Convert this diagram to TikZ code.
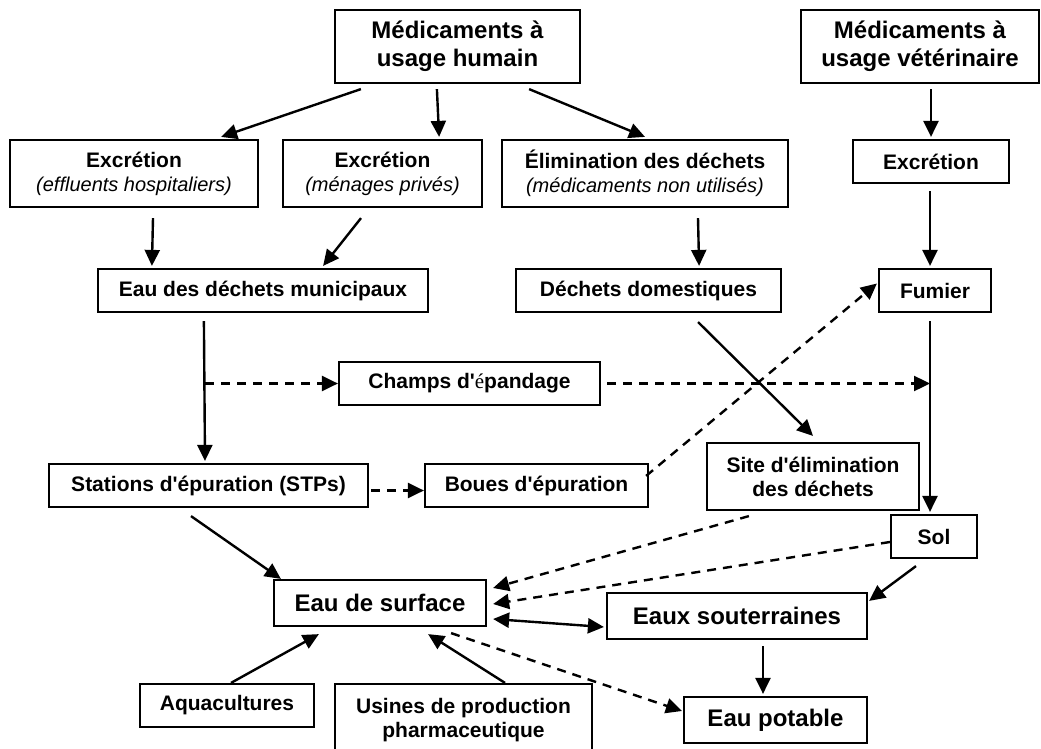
\documentclass[tikz,border=0pt]{standalone}
\usepackage{fontspec}
\setmainfont{Liberation Sans}
\newfontfamily\serifchar{Liberation Serif}
\usetikzlibrary{arrows.meta,positioning,calc}
\newcommand{\regfont}{\fontsize{21}{24}\selectfont\bfseries}
\newcommand{\bigfont}{\fontsize{24}{28}\selectfont\bfseries}
\newcommand{\subfont}{\fontsize{20}{24}\selectfont\mdseries\itshape}

\begin{document}
\begin{tikzpicture}[x=1pt, y=-1pt,
  box/.style={draw, line width=2.2pt, inner sep=0pt, align=center, font=\regfont},
  arr/.style={line width=2.4pt, -{Triangle[length=16pt,width=15pt]}},
  darr/.style={arr, dash pattern=on 9pt off 7pt},
  dbl/.style={line width=2.4pt, {Triangle[length=16pt,width=15pt]}-{Triangle[length=16pt,width=15pt]}}]
\useasboundingbox[fill=white] (0,0) rectangle (1041,749);

% Sources
\node[box, font=\bigfont, minimum width=245, minimum height=73] (hum) at (457.5,46.5) {Médicaments à\\usage humain};
\node[box, font=\bigfont, minimum width=238, minimum height=73] (vet) at (920,46.5) {Médicaments à\\usage vétérinaire};

% First level
\node[box, minimum width=248, minimum height=67] (exh) at (134,173.5) {Excrétion\\{\subfont (effluents hospitaliers)}};
\node[box, minimum width=199, minimum height=67] (exm) at (382.5,173.5) {Excrétion\\{\subfont (ménages privés)}};
\node[box, minimum width=286, minimum height=67] (elim) at (645,173.5) {Élimination des déchets\\{\subfont (médicaments non utilisés)}};
\node[box, minimum width=156, minimum height=43] (exv) at (931,161.5) {Excrétion};

% Second level
\node[box, minimum width=330, minimum height=43] (edm) at (263,290.5) {Eau des déchets municipaux};
\node[box, minimum width=265, minimum height=43] (dd) at (648.5,290.5) {Déchets domestiques};
\node[box, minimum width=112, minimum height=43] (fum) at (935,290.5) {Fumier};

% Treatment
\node[box, minimum width=261, minimum height=43] (champs) at (469.5,383.5) {Champs d\textquotesingle{\serifchar\mdseries é}pandage};
\node[box, minimum width=319, minimum height=43] (stp) at (208.5,485.5) {Stations d\textquotesingle épuration (STPs)};
\node[box, minimum width=223, minimum height=43] (boues) at (536.5,485.5) {Boues d\textquotesingle épuration};
\node[box, minimum width=212, minimum height=67] (site) at (813,476.5) {Site d\textquotesingle élimination\\des déchets};
\node[box, minimum width=86, minimum height=43] (sol) at (934,536.5) {Sol};

% Waters
\node[box, font=\bigfont, minimum width=212, minimum height=46] (eds) at (380,603) {Eau de surface};
\node[box, font=\bigfont, minimum width=260, minimum height=46] (eso) at (737,616) {Eaux souterraines};
\node[box, font=\bigfont, minimum width=183, minimum height=46] (epo) at (775.5,720) {Eau potable};
\node[box, minimum width=174, minimum height=43] (aqua) at (227,705.5) {Aquacultures};
\node[box, minimum width=257, minimum height=72] (usn) at (463.5,720) {Usines de production\\pharmaceutique};

% Flows from the drugs
\draw[arr] ($(hum.south west)+(27,5)$) -- ($(exh.north east)+(-38,-2)$);
\draw[arr] ($(hum.south west)+(103,5)$) -- ($(exm.north east)+(-44,-2)$);
\draw[arr] ($(hum.south east)+(-52,5)$) -- ($(elim.north)+(0,-2)$);
\draw[arr] ($(vet.south)+(11,5)$) -- ($(exv.north)+(0,-2)$);
\draw[arr] ($(exh.south)+(19,10)$) -- ($(edm.north west)+(55,-2)$);
\draw[arr] ($(exm.south)+(-21.5,10)$) -- ($(edm.north east)+(-106,-2)$);
\draw[arr] ($(elim.south)+(53,10)$) -- ($(dd.north east)+(-83,-2)$);
\draw[arr] ($(exv.south)+(-1,7)$) -- ($(fum.north)+(-5,-2)$);

% Sewage and manure
\coordinate (stpin) at ($(stp.north)+(-3.5,-2)$);
\coordinate (fumout) at ($(fum.south)+(-5,8)$);
\draw[arr] ($(edm.south west)+(107,8)$) -- (stpin);
\draw[darr] (stpin |- champs.west) -- (champs.west);
\draw[darr] ($(champs.east)+(6,0)$) -- (champs.east -| fumout);
\draw[arr, shorten >=2pt] (fumout) -- (fumout |- sol.north);
\draw[arr] ($(dd.south east)+(-84,9)$) -- ($(site.north)+(0,-6)$);
\draw[darr] ($(stp.east)+(2,5)$) -- ($(boues.west)+(0,5)$);
\draw[darr] ($(boues.north east)+(-3,13)$) -- ($(fum.west)+(-1,-7)$);

% Into the waters
\draw[arr] ($(stp.south)+(-17.5,8)$) -- ($(eds.north west)+(8,0)$);
\draw[darr] ($(site.south west)+(43,5)$) -- ($(eds.east)+(6,-15)$);
\draw[darr] ($(sol.west)+(0,5.5)$) -- ($(eds.east)+(6,1)$);
\draw[dbl] ($(eds.east)+(6,16)$) -- ($(eso.west)+(-2,11)$);
\draw[arr] ($(sol.south)+(-18,7)$) -- ($(eso.north east)+(1,9)$);
\draw[arr] ($(eso.south)+(26,6)$) -- ($(epo.north)+(-12.5,-2)$);
\draw[darr] ($(eds.south east)+(-36,6)$) -- ($(epo.west)+(-1,-9)$);
\draw[arr] ($(aqua.north)+(4,0)$) -- ($(eds.south west)+(46,7)$);
\draw[arr] ($(usn.north)+(41.5,0)$) -- ($(eds.south east)+(-59,7)$);
\end{tikzpicture}
\end{document}
